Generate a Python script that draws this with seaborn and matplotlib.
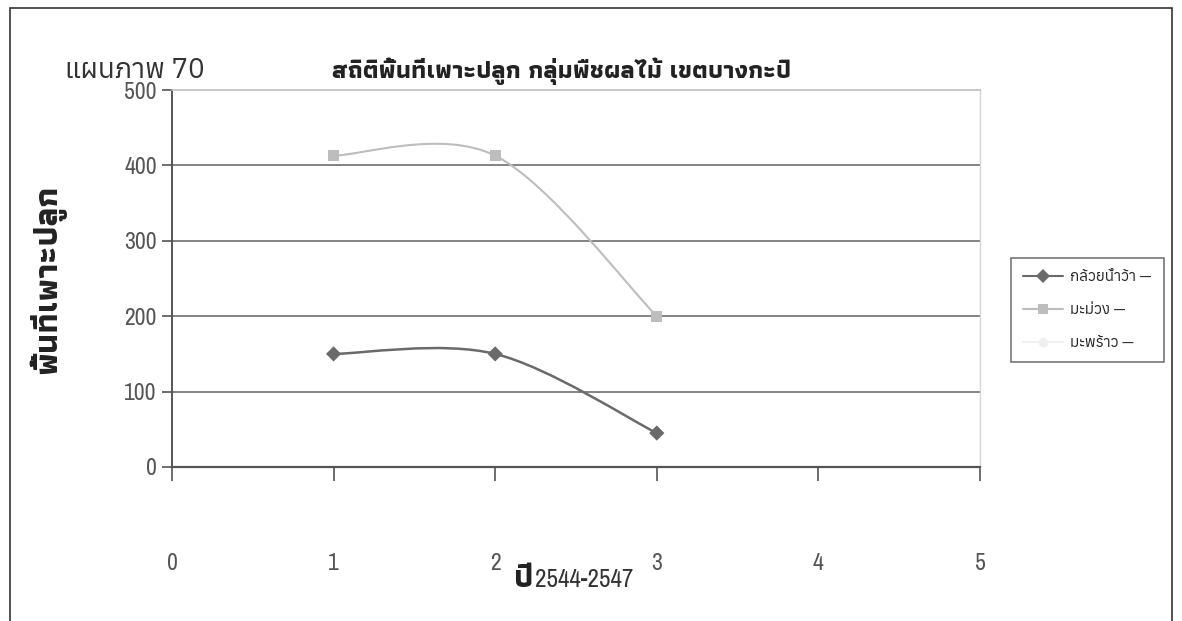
import matplotlib
matplotlib.use("Agg")
import matplotlib.pyplot as plt
import seaborn as sns
import pandas as pd
from matplotlib.path import Path
from matplotlib.patches import PathPatch, Rectangle
from matplotlib.lines import Line2D

# =====================================================
# DATA
# =====================================================

years = [1, 2, 3]
banana = [150, 150, 45]
mango = [413, 413, 200]

series_names = ["กล้วยน้ำว้า", "มะม่วง", "มะพร้าว"]
legend_labels = ["กล้วยน้ำว้า —", "มะม่วง —", "มะพร้าว —"]

x_ticks = [0, 1, 2, 3, 4, 5]
y_ticks = [0, 100, 200, 300, 400, 500]

title_left = "แผนภาพ 70"
title_main = "สถิติพื้นที่เพาะปลูก กลุ่มพืชผลไม้ เขตบางกะปิ"
y_label = "พื้นที่เพาะปลูก"
x_label_thai = "ปี"
x_label_years = "2544-2547"

# =====================================================
# STYLE
# =====================================================

sns.set_theme(style="white")

NUM_FONT = ["Liberation Sans Narrow", "Archivo Narrow", "Roboto Condensed", "DejaVu Sans"]
THAI_LOOPLESS = ["Anuphan", "DejaVu Sans"]
THAI_BOLD = ["Athiti", "Anuphan", "DejaVu Sans"]

plt.rcParams["font.family"] = THAI_LOOPLESS

colors = {
    "กล้วยน้ำว้า": "#6a6a6a",
    "มะม่วง": "#bdbdbd",
    "มะพร้าว": "#f0f0f0",
}
markers = {
    "กล้วยน้ำว้า": "D",
    "มะม่วง": "s",
    "มะพร้าว": "o",
}


def smooth_path(xs, ys):
    # Excel-style smoothed line: Catmull-Rom turned into cubic Beziers
    pts = list(zip(xs, ys))
    verts = [pts[0]]
    codes = [Path.MOVETO]
    for i in range(len(pts) - 1):
        p0 = pts[i - 1] if i > 0 else pts[i]
        p1 = pts[i]
        p2 = pts[i + 1]
        p3 = pts[i + 2] if i + 2 < len(pts) else pts[i + 1]
        c1 = (p1[0] + (p2[0] - p0[0]) / 6, p1[1] + (p2[1] - p0[1]) / 6)
        c2 = (p2[0] - (p3[0] - p1[0]) / 6, p2[1] - (p3[1] - p1[1]) / 6)
        verts += [c1, c2, p2]
        codes += [Path.CURVE4] * 3
    return Path(verts, codes)


df = pd.DataFrame({
    "year": years * 2,
    "area": banana + mango,
    "crop": [series_names[0]] * len(years) + [series_names[1]] * len(years),
})

# =====================================================
# FIGURE
# =====================================================

fig = plt.figure(figsize=(11.82, 6.21), dpi=100)
ax = fig.add_axes([0.1455, 0.248, 0.6836, 0.607])

# outer frame
fig.add_artist(Rectangle(
    (0.0085, -0.02), 0.983, 1.007,
    transform=fig.transFigure,
    fill=False, edgecolor="#333333", linewidth=1.2
))

# grid
for v in y_ticks[1:-1]:
    ax.axhline(v, color="#7a7a7a", linewidth=1.3, zorder=1)

# smoothed lines
for name, vals, lw in [(series_names[0], banana, 1.8), (series_names[1], mango, 1.5)]:
    ax.add_patch(PathPatch(
        smooth_path(years, vals),
        fill=False,
        edgecolor=colors[name],
        linewidth=lw,
        zorder=2
    ))

sns.scatterplot(
    data=df,
    x="year",
    y="area",
    hue="crop",
    style="crop",
    palette=colors,
    markers=markers,
    s=60,
    linewidth=0,
    legend=False,
    zorder=3,
    ax=ax
)

ax.set_xlim(0, 5)
ax.set_ylim(0, 500)
ax.set_xticks(x_ticks)
ax.set_yticks(y_ticks)
ax.set_xlabel("")
ax.set_ylabel("")

for lab in ax.get_xticklabels() + ax.get_yticklabels():
    lab.set_family(NUM_FONT)
    lab.set_color("#555555")
    lab.set_fontsize(17)

ax.tick_params(axis="x", direction="out", length=10, width=1.2, color="#555555", pad=52, bottom=True)
ax.tick_params(axis="y", direction="out", length=7, width=1.2, color="#555555", pad=4, left=True)

ax.spines["left"].set_color("#555555")
ax.spines["left"].set_linewidth(1.4)
ax.spines["bottom"].set_color("#555555")
ax.spines["bottom"].set_linewidth(1.6)
ax.spines["top"].set_color("#bdbdbd")
ax.spines["top"].set_linewidth(1.2)
ax.spines["right"].set_color("#d6d6d6")
ax.spines["right"].set_linewidth(1.0)

# =====================================================
# TEXT
# =====================================================

fig.text(0.055, 0.887, title_left, family=THAI_LOOPLESS, fontsize=20,
         color="#333333", ha="left", va="center")
fig.text(0.475, 0.886, title_main, family=THAI_BOLD, fontsize=18,
         fontweight="bold", color="#222222", ha="center", va="center")

fig.text(0.04, 0.55, y_label, family=THAI_BOLD, fontsize=24,
         fontweight="bold", color="#222222", rotation=90, ha="center", va="center")

fig.text(0.443, 0.045, x_label_thai, family=THAI_BOLD, fontsize=23,
         fontweight="bold", color="#222222", ha="center", va="bottom")
fig.text(0.453, 0.048, x_label_years, family=NUM_FONT, fontsize=18,
         color="#333333", ha="left", va="bottom")

# =====================================================
# LEGEND
# =====================================================

handles = [
    Line2D([], [], color=colors[n], marker=markers[n], markersize=7,
           markeredgewidth=0, linewidth=1.5)
    for n in series_names
]

leg = fig.legend(
    handles,
    legend_labels,
    loc="upper left",
    bbox_to_anchor=(0.855, 0.585),
    frameon=True,
    fancybox=False,
    edgecolor="#555555",
    handlelength=2.6,
    handletextpad=0.5,
    labelspacing=1.25,
    borderpad=0.8,
    borderaxespad=0,
    prop={"family": THAI_LOOPLESS, "size": 11},
)
leg.get_frame().set_linewidth(1.2)

fig.savefig("out.png", dpi=100)
